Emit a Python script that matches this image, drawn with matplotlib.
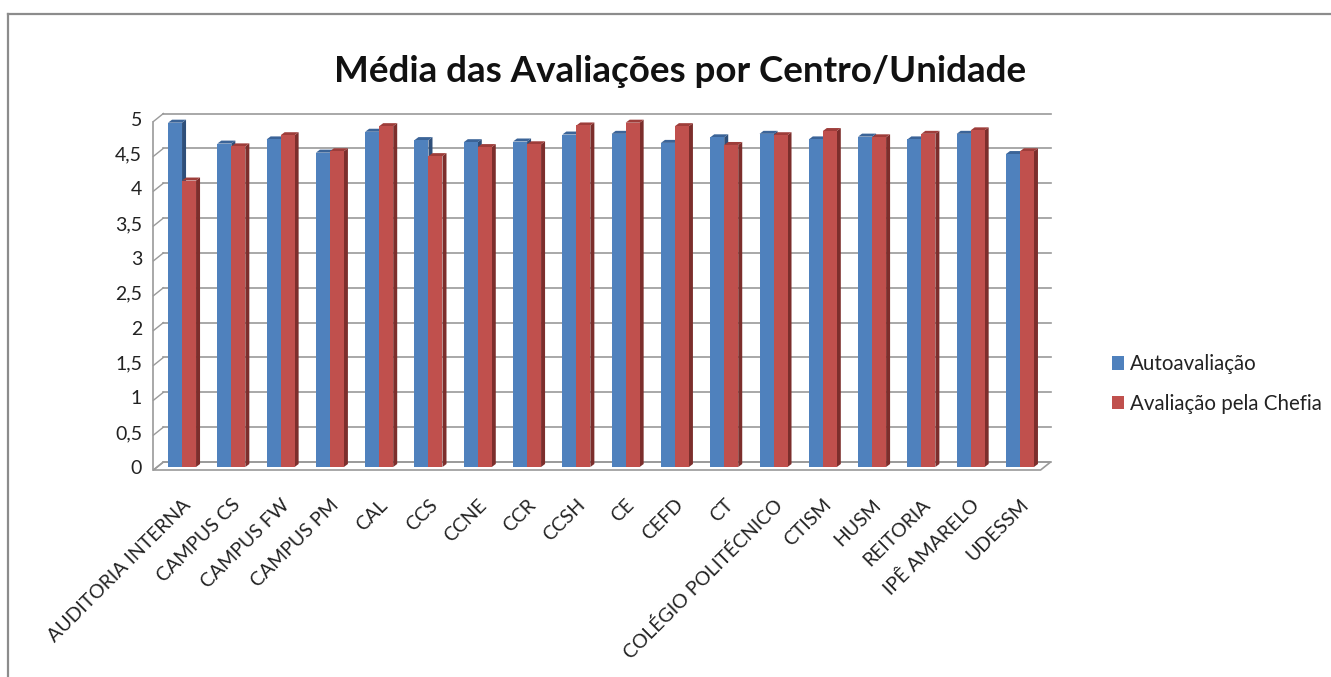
import numpy as np
import matplotlib
matplotlib.use('Agg')
import matplotlib.pyplot as plt
from matplotlib.patches import Polygon, Patch
from matplotlib.lines import Line2D

plt.rcParams['font.family'] = ['Lato', 'DejaVu Sans']

# data
unidades = ['AUDITORIA INTERNA', 'CAMPUS CS', 'CAMPUS FW', 'CAMPUS PM', 'CAL', 'CCS',
            'CCNE', 'CCR', 'CCSH', 'CE', 'CEFD', 'CT', 'COLÉGIO POLITÉCNICO',
            'CTISM', 'HUSM', 'REITORIA', 'IPÊ AMARELO', 'UDESSM']
autoavaliacao = [4.94, 4.64, 4.70, 4.51, 4.81, 4.69, 4.66, 4.67, 4.77, 4.78,
                 4.65, 4.73, 4.78, 4.70, 4.74, 4.70, 4.78, 4.49]
chefia = [4.11, 4.60, 4.76, 4.53, 4.89, 4.46, 4.59, 4.63, 4.90, 4.94,
          4.89, 4.62, 4.76, 4.82, 4.73, 4.78, 4.83, 4.53]
yticks = np.arange(0, 5.01, 0.5)
ytick_labels = [f'{v:g}'.replace('.', ',') for v in yticks]

W, H = 1331, 677
fig = plt.figure(figsize=(W / 100, H / 100), dpi=100)

# axes = plane of the bars' front faces (pixels)
ax_l, ax_r, ax_b, ax_t = 157.4, 1044.6, 467, 118.5
ax = fig.add_axes([ax_l / W, 1 - ax_b / H, (ax_r - ax_l) / W, (ax_b - ax_t) / H])
n = len(unidades)
ax.set_xlim(-0.5, n - 0.5)
ax.set_ylim(0, 5)
ax.patch.set_visible(False)
for s in ax.spines.values():
    s.set_visible(False)

ppx = (ax_r - ax_l) / n
ppy = (ax_b - ax_t) / 5.0


def off(dx, dy):
    return dx / ppx, dy / ppy


grid_c = '#9a9a9a'
bx, by = off(6, 5)     # back wall
fx, fy = off(-4, -3)   # front edge of floor / side wall
x0, x1 = -0.5, n - 0.5

# floor
ax.add_patch(Polygon([(x0 + fx, fy), (x1 + fx, fy), (x1 + bx, by), (x0 + bx, by)],
                     closed=True, facecolor='white', edgecolor=grid_c, lw=1.2,
                     clip_on=False, zorder=0))
# gridlines on back wall and side wall
for v in yticks:
    ax.plot([x0 + bx, x1 + bx], [v + by, v + by], color=grid_c, lw=1.2,
            clip_on=False, zorder=0.5)
    ax.plot([x0 + fx, x0 + bx], [v + fy, v + by], color=grid_c, lw=1.0,
            clip_on=False, zorder=0.5)
ax.plot([x0 + fx, x0 + fx], [fy, 5 + fy], color=grid_c, lw=1.2, clip_on=False, zorder=0.5)

# bars
w = 14 / ppx
dx, dy = off(4, 3)
series = [(autoavaliacao, -w, '#4f81bd', '#3b6498', '#2e4f7a', 2),
          (chefia, 0.0, '#c0504d', '#9e3d3a', '#7c2e2c', 3)]
x = np.arange(n)
for vals, shift, c_front, c_top, c_side, z in series:
    ax.bar(x + shift, vals, width=w, align='edge', color=c_front, zorder=z + 0.2)
    for xi, v in zip(x + shift, vals):
        ax.add_patch(Polygon([(xi + w, 0), (xi + w, v), (xi + w + dx, v + dy), (xi + w + dx, dy)],
                             closed=True, facecolor=c_side, edgecolor='none', zorder=z))
        ax.add_patch(Polygon([(xi, v), (xi + w, v), (xi + w + dx, v + dy), (xi + dx, v + dy)],
                             closed=True, facecolor=c_top, edgecolor='none', zorder=z + 0.1))

ax.set_yticks(yticks)
ax.set_yticklabels(ytick_labels, fontsize=14, color='#222222')
ax.set_xticks(x)
ax.set_xticklabels(unidades, rotation=45, ha='right', va='top', rotation_mode='anchor',
                   fontsize=14, color='#222222')
ax.tick_params(axis='y', length=0, pad=11)
ax.tick_params(axis='x', length=0, pad=21)

fig.text(680 / W, 1 - 71 / H, 'Média das Avaliações por Centro/Unidade',
         ha='center', va='center', fontsize=26.5, fontweight='bold', color='#111111')

handles = [Patch(facecolor='#4f81bd', label='Autoavaliação'),
           Patch(facecolor='#c0504d', label='Avaliação pela Chefia')]
fig.legend(handles=handles, loc='center left', bbox_to_anchor=(1093 / W, 1 - 384 / H),
           frameon=False, fontsize=14.8, handlelength=0.6, handleheight=0.6,
           handletextpad=0.3, labelspacing=0.95, labelcolor='#222222')

# chart border (top and left edges visible)
fig.add_artist(Line2D([8 / W, 8 / W], [0, 1 - 14 / H], color='#8c8c8c', lw=1.6))
fig.add_artist(Line2D([8 / W, 1], [1 - 14 / H, 1 - 14 / H], color='#8c8c8c', lw=1.6))

fig.savefig('out.png', dpi=100)
